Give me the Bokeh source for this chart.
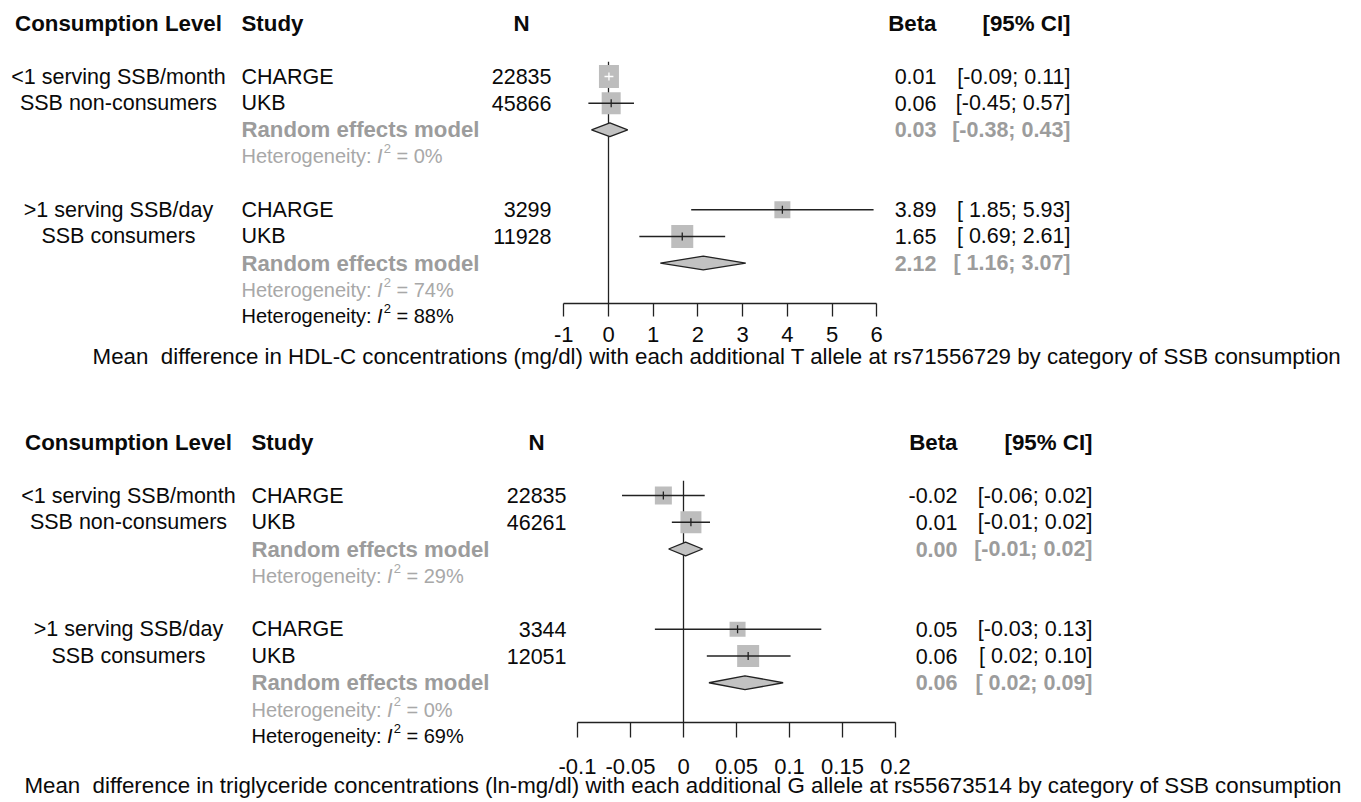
import numpy as np
from bokeh.plotting import figure
from bokeh.models import Range1d, LinearAxis, FixedTicker
from bokeh.layouts import column
from bokeh.core.properties import value
from bokeh.embed import file_html
from bokeh.resources import INLINE

# ------------------------------------------------------------------ data
level_labels = [["<1 serving SSB/month", "SSB non-consumers"],
                [">1 serving SSB/day", "SSB consumers"]]
studies = ["CHARGE", "UKB", "CHARGE", "UKB"]
headers = ["Consumption Level", "Study", "N", "Beta", "[95% CI]"]

# HDL-C panel
hdl_n = ["22835", "45866", "3299", "11928"]
hdl_beta = [0.01, 0.06, 3.89, 1.65]
hdl_lo = [-0.09, -0.45, 1.85, 0.69]
hdl_hi = [0.11, 0.57, 5.93, 2.61]
hdl_re = [0.03, 2.12]
hdl_re_lo = [-0.38, 1.16]
hdl_re_hi = [0.43, 3.07]
hdl_beta_txt = ["0.01", "0.06", "3.89", "1.65"]
hdl_ci_txt = ["[-0.09; 0.11]", "[-0.45; 0.57]", "[ 1.85; 5.93]", "[ 0.69; 2.61]"]
hdl_re_txt = ["0.03", "2.12"]
hdl_re_ci_txt = ["[-0.38; 0.43]", "[ 1.16; 3.07]"]
hdl_i2 = ["0%", "74%"]
hdl_i2_all = "88%"
hdl_ticks = [-1, 0, 1, 2, 3, 4, 5, 6]
hdl_tick_labels = ["-1", "0", "1", "2", "3", "4", "5", "6"]
hdl_xlabel = ("Mean\u00a0 difference in HDL-C concentrations (mg/dl) with each additional "
              "T allele at rs71556729 by category of SSB consumption")

# Triglyceride panel
tg_n = ["22835", "46261", "3344", "12051"]
tg_beta = [-0.019, 0.007, 0.051, 0.061]
tg_lo = [-0.058, -0.011, -0.027, 0.022]
tg_hi = [0.020, 0.025, 0.130, 0.101]
tg_re = [0.002, 0.058]
tg_re_lo = [-0.014, 0.024]
tg_re_hi = [0.018, 0.094]
tg_beta_txt = ["-0.02", "0.01", "0.05", "0.06"]
tg_ci_txt = ["[-0.06; 0.02]", "[-0.01; 0.02]", "[-0.03; 0.13]", "[ 0.02; 0.10]"]
tg_re_txt = ["0.00", "0.06"]
tg_re_ci_txt = ["[-0.01; 0.02]", "[ 0.02; 0.09]"]
tg_i2 = ["29%", "0%"]
tg_i2_all = "69%"
tg_ticks = [-0.1, -0.05, 0, 0.05, 0.1, 0.15, 0.2]
tg_tick_labels = ["-0.1", "-0.05", "0", "0.05", "0.1", "0.15", "0.2"]
tg_xlabel = ("Mean\u00a0 difference in triglyceride concentrations (ln-mg/dl) with each additional "
             "G allele at rs55673514 by category of SSB consumption")

# ------------------------------------------------------------------ style / layout
FONT = "Liberation Sans"
FS = 21.5
W = 1359
BLACK = "#0a0a0a"
GREY_RE = "#9c9c9c"
GREY_HET = "#a8a8a8"
SQ = "#bdbdbd"

study_rows = [0, 1, 5, 6]
re_rows = [2, 7]
het_rows = [3, 8]
het_all_row = 9
axis_row = 8.5


def txt(p, x, y, t, align="left", color=BLACK, size=FS, style="normal", xo=0, yo=0):
    p.text(x=x, y=y, text=t, text_align=align, text_baseline="middle",
           text_font=value(FONT), text_font_size=value(f"{size}px"),
           text_font_style=style, text_color=color, x_offset=xo, y_offset=yo)


def het(p, x, y, i2, color, size=20):
    w1 = 6.781 * size
    txt(p, [x], [y], ["Heterogeneity:"], color=color, size=size)
    txt(p, [x], [y], ["I"], color=color, size=size, style="italic", xo=w1)
    sup = round(size * 0.65)
    txt(p, [x], [y], ["2"], color=color, size=sup, xo=w1 + 0.278 * size + 1, yo=-0.38 * size)
    txt(p, [x], [y], ["= " + i2], color=color, size=size,
        xo=w1 + 0.278 * size + 0.556 * sup + 1 + 0.278 * size)


def panel(H, zero_px, unit_px, row0_px, row_px, cols, d, box_w, box_h, standoff, tick_out, xlab_row):
    p = figure(width=W, height=H,
               x_range=Range1d((0 - zero_px) / unit_px, (W - zero_px) / unit_px),
               y_range=Range1d((H - row0_px) / row_px, -row0_px / row_px),
               x_axis_type=None, y_axis_type=None, toolbar_location=None,
               output_backend="svg", min_border=0)
    p.outline_line_color = None
    p.background_fill_color = "white"
    X = lambda px: (px - zero_px) / unit_px

    # headers
    hy = -2
    HS = 22.3
    txt(p, [X(cols["lvl"])], [hy], [headers[0]], align="center", style="bold", size=HS)
    txt(p, [X(cols["study"])], [hy], [headers[1]], style="bold", size=HS)
    txt(p, [X(cols["nh"])], [hy], [headers[2]], align="center", style="bold", size=HS)
    txt(p, [X(cols["beta"])], [hy], [headers[3]], align="right", style="bold", size=HS)
    txt(p, [X(cols["ci"])], [hy], [headers[4]], align="right", style="bold", size=HS)

    # group labels
    for g, (a, b) in enumerate(level_labels):
        r = study_rows[2 * g]
        txt(p, [X(cols["lvl"])] * 2, [r, r + 1], [a, b], align="center")

    # study rows
    txt(p, [X(cols["study"])] * 4, study_rows, studies)
    txt(p, [X(cols["n"])] * 4, study_rows, d["n"], align="right")
    txt(p, [X(cols["beta"])] * 4, study_rows, d["beta_txt"], align="right")
    txt(p, [X(cols["ci"])] * 4, study_rows, d["ci_txt"], align="right")

    # random-effects rows
    txt(p, [X(cols["study"])] * 2, re_rows, ["Random effects model"] * 2,
        color=GREY_RE, style="bold", size=22.2)
    txt(p, [X(cols["beta"])] * 2, re_rows, d["re_txt"], align="right", color=GREY_RE, style="bold")
    txt(p, [X(cols["ci"])] * 2, re_rows, d["re_ci_txt"], align="right", color=GREY_RE, style="bold")

    # heterogeneity
    for r, i2 in zip(het_rows, d["i2"]):
        het(p, X(cols["study"]), r, i2, GREY_HET)
    het(p, X(cols["study"]), het_all_row, d["i2_all"], BLACK)

    # null line
    p.segment(x0=[0], y0=[-0.55], x1=[0], y1=[axis_row], line_color="#222222", line_width=1.3)

    # squares
    p.rect(x=d["beta"], y=study_rows, width=box_w, height=box_h,
           width_units="screen", height_units="screen", fill_color=SQ, line_color=None)
    ci_cols = ["white" if (hi - lo) * unit_px < w else "#222222"
               for lo, hi, w in zip(d["lo"], d["hi"], box_w)]
    p.segment(x0=d["lo"], y0=study_rows, x1=d["hi"], y1=study_rows,
              line_color=ci_cols, line_width=1.5)
    p.segment(x0=d["beta"], y0=[r - 0.15 for r in study_rows],
              x1=d["beta"], y1=[r + 0.15 for r in study_rows],
              line_color=ci_cols, line_width=1.3)

    # diamonds
    hh = 0.26
    xs = [[lo, m, hi, m] for lo, m, hi in zip(d["re_lo"], d["re"], d["re_hi"])]
    ys = [[r, r - hh, r, r + hh] for r in re_rows]
    p.patches(xs=xs, ys=ys, fill_color="#c2c2c2", line_color="#222222", line_width=1.3)

    # axis
    ax = LinearAxis(fixed_location=axis_row, ticker=FixedTicker(ticks=d["ticks"]),
                    bounds=(d["ticks"][0], d["ticks"][-1]),
                    major_label_overrides={float(t): l for t, l in zip(d["ticks"], d["tick_labels"])})
    ax.axis_line_color = "#222222"
    ax.axis_line_width = 1.3
    ax.major_tick_line_color = "#222222"
    ax.major_tick_line_width = 1.3
    ax.major_tick_out = tick_out
    ax.major_tick_in = 0
    ax.minor_tick_out = 0
    ax.minor_tick_in = 0
    ax.major_label_text_font = FONT
    ax.major_label_text_font_size = "22px"
    ax.major_label_text_color = BLACK
    ax.major_label_standoff = standoff
    p.add_layout(ax, "below")

    # x label
    txt(p, [X(cols["xlab"])], [xlab_row], [d["xlabel"]], align="right", size=22.3)
    return p


hdl = dict(n=hdl_n, beta=hdl_beta, lo=hdl_lo, hi=hdl_hi, re=hdl_re, re_lo=hdl_re_lo,
           re_hi=hdl_re_hi, beta_txt=hdl_beta_txt, ci_txt=hdl_ci_txt, re_txt=hdl_re_txt,
           re_ci_txt=hdl_re_ci_txt, i2=hdl_i2, i2_all=hdl_i2_all, ticks=hdl_ticks,
           tick_labels=hdl_tick_labels, xlabel=hdl_xlabel)
tg = dict(n=tg_n, beta=tg_beta, lo=tg_lo, hi=tg_hi, re=tg_re, re_lo=tg_re_lo,
          re_hi=tg_re_hi, beta_txt=tg_beta_txt, ci_txt=tg_ci_txt, re_txt=tg_re_txt,
          re_ci_txt=tg_re_ci_txt, i2=tg_i2, i2_all=tg_i2_all, ticks=tg_ticks,
          tick_labels=tg_tick_labels, xlabel=tg_xlabel)

cols_top = dict(lvl=118, study=241, n=551, nh=521, beta=936, ci=1070, xlab=1341)
cols_bot = dict(lvl=128, study=251, n=566, nh=536, beta=957, ci=1092, xlab=1341)

p1 = panel(395, 608, 44.7, 76, 26.65, cols_top, hdl,
           [20, 19, 16, 22], [23, 22, 17, 23], 11, 13, 10.5)
p2 = panel(405, 683, 1060.0, 100, 26.75, cols_bot, tg,
           [17, 21, 16, 22], [18, 22, 15, 22], 21, 15, 10.85)

layout = column(p1, p2, spacing=0)
open("out.html", "w").write(file_html(layout, INLINE))
